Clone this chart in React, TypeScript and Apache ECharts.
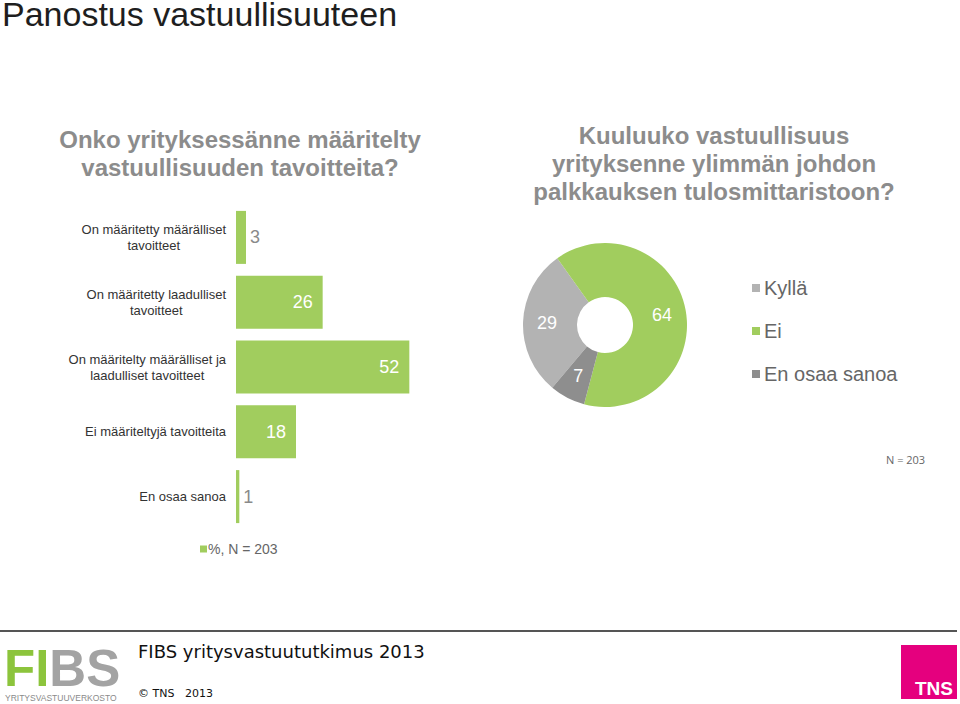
import React, { useEffect, useRef } from "react";
import * as echarts from "echarts";

const FONT = '"Liberation Sans", Arial, Helvetica, sans-serif';
const GREEN = "#a1cd5e";
const LIGHT_GRAY = "#b3b3b3";
const DARK_GRAY = "#8e8e8e";

const barCategories = [
  "On määritetty määrälliset\ntavoitteet",
  "On määritetty laadulliset\ntavoitteet",
  "On määritelty määrälliset ja\nlaadulliset tavoitteet",
  "Ei määriteltyjä tavoitteita",
  "En osaa sanoa",
];
const barValues = [3, 26, 52, 18, 1];
const barSeriesName = "%, N = 203";

const pieNames = ["Kyllä", "Ei", "En osaa sanoa"];
const pieValues = [29, 64, 7];
const pieColors = [LIGHT_GRAY, GREEN, DARK_GRAY];

const mainTitle = "Panostus vastuullisuuteen";
const leftQuestion = "Onko yrityksessänne määritelty\nvastuullisuuden tavoitteita?";
const rightQuestion = "Kuuluuko vastuullisuus\nyrityksenne ylimmän johdon\npalkkauksen tulosmittaristoon?";

export default function App() {
  const ref = useRef<HTMLDivElement>(null);

  useEffect(() => {
    if (!ref.current) return;
    const chart = echarts.init(ref.current, null, { renderer: "svg" });

    const barData = barValues.map((v) =>
      v < 10
        ? { value: v, label: { position: "right", distance: 4, color: "#8a8a8a" } }
        : { value: v }
    );

    const option: any = {
      animation: false,
      backgroundColor: "#ffffff",
      textStyle: { fontFamily: FONT },
      title: [
        {
          text: mainTitle,
          left: 2,
          top: 0,
          padding: 0,
          textStyle: {
            fontFamily: FONT,
            fontSize: 34,
            fontWeight: "normal",
            color: "#1e1e1e",
            lineHeight: 28,
          },
        },
        {
          text: leftQuestion,
          left: 235,
          top: 120,
          textAlign: "center",
          textStyle: {
            fontFamily: FONT,
            fontSize: 24,
            fontWeight: "bold",
            color: "#8c8c8c",
            lineHeight: 28,
          },
        },
        {
          text: rightQuestion,
          left: 709,
          top: 116,
          textAlign: "center",
          textStyle: {
            fontFamily: FONT,
            fontSize: 24,
            fontWeight: "bold",
            color: "#8c8c8c",
            lineHeight: 28,
          },
        },
      ],
      legend: [
        {
          data: [barSeriesName],
          left: 200,
          top: 542,
          padding: 0,
          icon: "rect",
          itemWidth: 7,
          itemHeight: 7,
          itemGap: 10,
          textStyle: { fontFamily: FONT, fontSize: 14, color: "#666", padding: [0, 0, 0, -4] },
        },
        {
          data: pieNames,
          orient: "vertical",
          left: 752,
          top: 278,
          padding: 0,
          icon: "rect",
          itemWidth: 8,
          itemHeight: 8,
          itemGap: 23,
          textStyle: { fontFamily: FONT, fontSize: 20, color: "#666", padding: [0, 0, 0, -1] },
        },
      ],
      grid: { left: 236, top: 205, width: 200, height: 324, containLabel: false },
      xAxis: { type: "value", min: 0, max: 60, show: false },
      yAxis: {
        type: "category",
        inverse: true,
        data: barCategories,
        axisLine: { show: false },
        axisTick: { show: false },
        splitLine: { show: false },
        axisLabel: {
          margin: 10,
          formatter: (val: string) =>
            val
              .split("\n")
              .map((l) => `{c|${l}}`)
              .join("\n"),
          rich: {
            c: { fontFamily: FONT, fontSize: 13, color: "#333", align: "center", lineHeight: 16 },
          },
        },
      },
      series: [
        {
          name: barSeriesName,
          type: "bar",
          data: barData,
          barWidth: 53,
          itemStyle: { color: GREEN },
          label: {
            show: true,
            position: "insideRight",
            distance: 10,
            fontFamily: FONT,
            fontSize: 18,
            color: "#ffffff",
          },
        },
        {
          name: "Palkkaus",
          type: "pie",
          center: [605, 325],
          radius: [28, 82],
          startAngle: 230,
          clockwise: true,
          data: pieNames.map((n, i) => ({
            name: n,
            value: pieValues[i],
            itemStyle: { color: pieColors[i] },
          })),
          label: {
            show: true,
            position: "inside",
            formatter: "{c}",
            fontFamily: FONT,
            fontSize: 18,
            color: "#ffffff",
          },
          labelLine: { show: false },
          emphasis: { disabled: true },
        },
      ],
      graphic: [
        {
          type: "text",
          left: 886,
          top: 454,
          style: { text: "N = 203", fontFamily: '"Open Sans", sans-serif', fontSize: 11, fill: "#666" },
        },
        {
          type: "line",
          shape: { x1: 0, y1: 631, x2: 957, y2: 631 },
          style: { stroke: "#555", lineWidth: 2 },
        },
        {
          type: "text",
          x: 4,
          y: 668,
          style: {
            text: "{g|FI}{s|BS}",
            verticalAlign: "middle",
            rich: {
              g: { fontFamily: FONT, fontSize: 51, fontWeight: "bold", fill: "#8cc43c", lineHeight: 40 },
              s: { fontFamily: FONT, fontSize: 51, fontWeight: "bold", fill: "#a3a3a3", lineHeight: 40 },
            },
          },
        },
        {
          type: "text",
          x: 5,
          y: 698,
          style: {
            text: "YRITYSVASTUUVERKOSTO",
            verticalAlign: "middle",
            fontFamily: FONT,
            fontSize: 8.5,
            fill: "#8a8a8a",
          },
        },
        {
          type: "text",
          left: 138,
          top: 642,
          style: {
            text: "FIBS yritysvastuututkimus 2013",
            fontFamily: '"DejaVu Sans", Verdana, sans-serif',
            fontSize: 18,
            fill: "#111",
          },
        },
        {
          type: "text",
          left: 138,
          top: 688,
          style: {
            text: "© TNS   2013",
            fontFamily: '"DejaVu Sans", Verdana, sans-serif',
            fontSize: 11,
            fill: "#111",
          },
        },
        {
          type: "rect",
          shape: { x: 901, y: 645, width: 56, height: 54 },
          style: { fill: "#e5007e" },
        },
        {
          type: "text",
          left: 915,
          top: 679,
          style: {
            text: "TNS",
            fontFamily: FONT,
            fontSize: 19,
            fontWeight: "bold",
            fill: "#ffffff",
          },
        },
      ],
    };

    chart.setOption(option);
    return () => chart.dispose();
  }, []);

  return (
    <div
      ref={ref}
      style={{ position: "fixed", left: 0, top: 0, width: 960, height: 704, background: "#fff" }}
    />
  );
}
